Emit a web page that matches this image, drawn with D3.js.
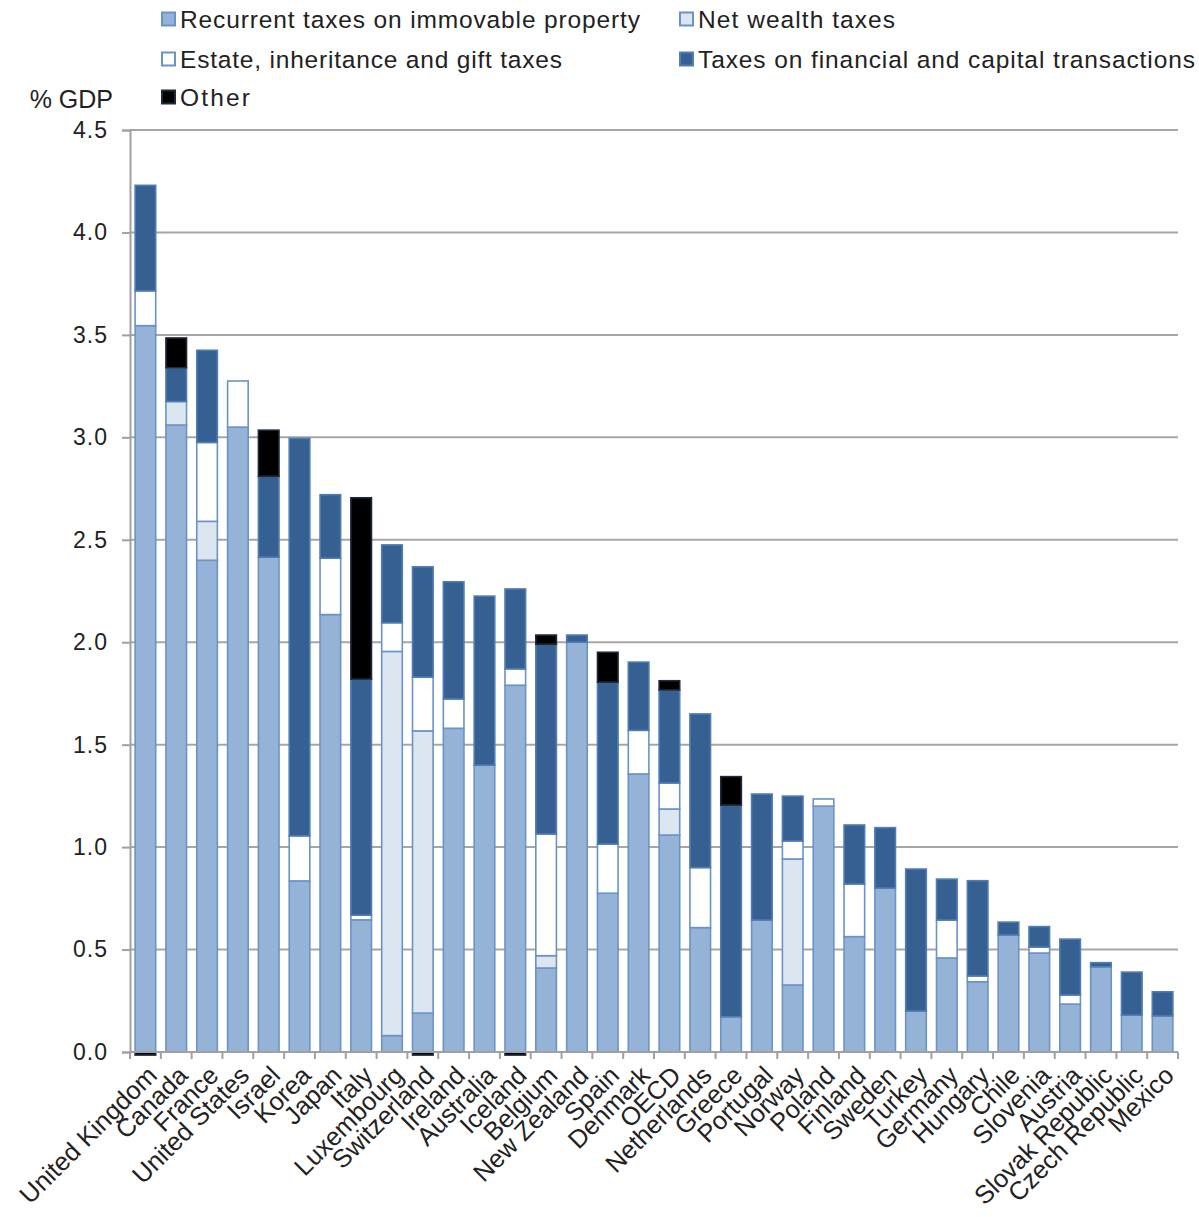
<!DOCTYPE html>
<html><head><meta charset="utf-8">
<script src="https://cdn.jsdelivr.net/npm/d3@7/dist/d3.min.js"></script>
<style>body{margin:0;background:#fff;} svg{display:block;font-family:"Liberation Sans",Arial,sans-serif;}</style>
</head><body><svg id="c" width="1199" height="1217"></svg>
<script>
const countries = ["United Kingdom","Canada","France","United States","Israel","Korea","Japan","Italy","Luxembourg","Switzerland","Ireland","Australia","Iceland","Belgium","New Zealand","Spain","Denmark","OECD","Netherlands","Greece","Portugal","Norway","Poland","Finland","Sweden","Turkey","Germany","Hungary","Chile","Slovenia","Austria","Slovak Republic","Czech Republic","Mexico"];
const recurrent = [3.545,3.06,2.40,3.05,2.415,0.835,2.135,0.645,0.08,0.19,1.58,1.40,1.79,0.41,2.0,0.775,1.357,1.059,0.607,0.172,0.644,0.327,1.20,0.563,0.80,0.20,0.459,0.343,0.571,0.483,0.234,0.416,0.18,0.176];
const netWealth = [0,0.115,0.19,0,0,0,0,0,1.875,1.377,0,0,0,0.06,0,0,0,0.127,0,0,0,0.615,0,0,0,0,0,0,0,0,0,0,0,0];
const estate = [0.17,0,0.385,0.225,0,0.22,0.275,0.023,0.14,0.263,0.143,0,0.08,0.594,0,0.24,0.213,0.127,0.293,0,0,0.088,0.035,0.257,0,0,0.185,0.028,0,0.029,0.044,0,0,0];
const financial = [0.515,0.165,0.45,0,0.395,1.94,0.31,1.152,0.38,0.538,0.572,0.825,0.39,0.926,0.035,0.79,0.333,0.454,0.75,1.033,0.615,0.219,0,0.288,0.295,0.693,0.2,0.465,0.063,0.1,0.273,0.02,0.21,0.118];
const other = [-0.015,0.145,0,0,0.225,0,0,0.885,0,-0.015,0,0,-0.015,0.045,0,0.146,0,0.045,0,0.139,0,0,0,0,0,0,0,0,0,0,0,0,0,0];
const seriesNames = ["Recurrent taxes on immovable property","Net wealth taxes","Estate, inheritance and gift taxes","Taxes on financial and capital transactions","Other"];
const yTicks = [0,0.5,1,1.5,2,2.5,3,3.5,4,4.5];

const keys = ["rec","nw","est","fin","oth"];
const fills = {rec:"#95B3D7", nw:"#DCE6F1", est:"#FFFFFF", fin:"#376092", oth:"#000000"};
const strokes = {rec:"#6A93C8", nw:"#6A93C8", est:"#6A93C8", fin:"#4F7DB6", oth:"#1F2A3A"};

const rows = countries.map((c,i)=>({country:c, rec:recurrent[i], nw:netWealth[i], est:estate[i], fin:financial[i], oth:other[i]}));

const svg = d3.select("#c");
const L=130, R=1178, T=130, B=1052;
const y = d3.scaleLinear().domain([0,4.5]).range([B,T]);
const x = d3.scaleBand().domain(countries).range([L,R]).paddingInner(0.28).paddingOuter(0.14);

// gridlines
svg.append("g").selectAll("line").data(yTicks.filter(d=>d>0)).join("line")
  .attr("x1",L).attr("x2",R).attr("y1",d=>y(d)).attr("y2",d=>y(d))
  .attr("stroke","#A6A6A6").attr("stroke-width",2);

// y axis
const yAxis = svg.append("g").attr("transform",`translate(${L},0)`)
  .call(d3.axisLeft(y).tickValues(yTicks).tickFormat(d3.format(".1f")).tickSize(8).tickPadding(14));
yAxis.select(".domain").attr("stroke","#A0A0A0").attr("stroke-width",2);
yAxis.selectAll(".tick line").attr("stroke","#A0A0A0").attr("stroke-width",2);
yAxis.selectAll(".tick text").attr("font-size",23).attr("fill","#222").attr("font-family","Liberation Sans, Arial, sans-serif").attr("letter-spacing","1px");

// stacks
const stack = d3.stack().keys(keys).offset(d3.stackOffsetDiverging);
const series = stack(rows);
svg.append("g").selectAll("g").data(series).join("g")
  .attr("fill",d=>fills[d.key]).attr("stroke",d=>strokes[d.key]).attr("stroke-width",1.6)
  .selectAll("rect").data(d=>d.filter(p=>p[1]-p[0]!==0)).join("rect")
  .attr("x",d=>x(d.data.country)+0.8)
  .attr("width",x.bandwidth()-1.6)
  .attr("y",d=>y(Math.max(d[0],d[1])))
  .attr("height",d=>Math.abs(y(d[0])-y(d[1])));

// x axis
const xAxisG = svg.append("g");
xAxisG.append("line").attr("x1",L).attr("x2",R).attr("y1",B).attr("y2",B).attr("stroke","#A0A0A0").attr("stroke-width",2);
const step = x.step();
xAxisG.selectAll("line.t").data(d3.range(countries.length+1)).join("line").attr("class","t")
  .attr("x1",i=>L+i*step).attr("x2",i=>L+i*step).attr("y1",B).attr("y2",B+7)
  .attr("stroke","#A0A0A0").attr("stroke-width",2);
xAxisG.selectAll("text").data(countries).join("text")
  .attr("transform",d=>`translate(${x(d)+x.bandwidth()/2+13},${B+25}) rotate(-45)`)
  .attr("text-anchor","end").attr("font-size",25.5).attr("fill","#222").text(d=>d);

// % GDP
svg.append("text").attr("x",113).attr("y",108).attr("text-anchor","end").attr("font-size",25).attr("fill","#222").text("% GDP");

// legend
const legPos = [{x:162,y:19,w:460},{x:680,y:19,w:197},{x:162,y:59,w:382},{x:680,y:59,w:497},{x:162,y:97,w:70}];
const lg = svg.append("g").selectAll("g").data(keys).join("g")
  .attr("transform",(k,i)=>`translate(${legPos[i].x},${legPos[i].y})`);
lg.append("rect").attr("x",0).attr("y",-6.5).attr("width",13).attr("height",13)
  .attr("fill",k=>fills[k]).attr("stroke",k=>strokes[k]).attr("stroke-width",2);
lg.append("text").attr("x",18).attr("y",9).attr("font-size",24.5).attr("fill","#222")
  .attr("textLength",(k,i)=>legPos[i].w).attr("lengthAdjust","spacing")
  .text((k,i)=>seriesNames[i]);
</script></body></html>
